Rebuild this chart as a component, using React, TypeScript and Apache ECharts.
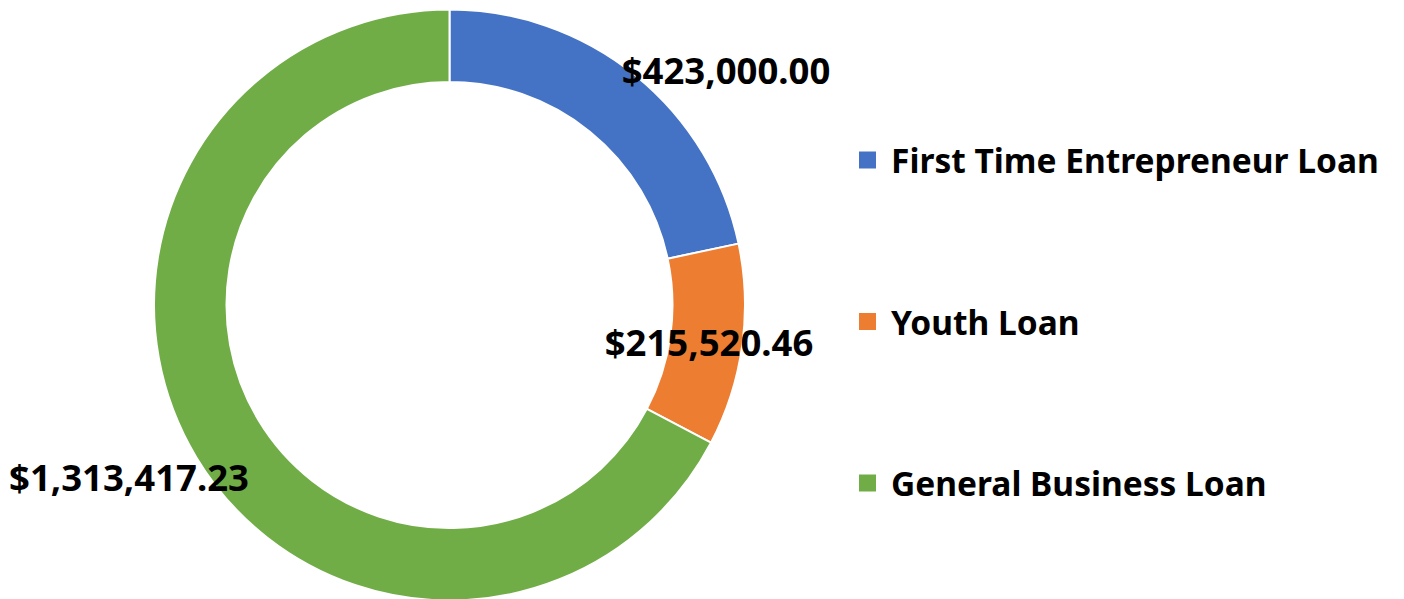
import React, { useEffect, useRef } from "react";
import * as echarts from "echarts";

const categories = ["First Time Entrepreneur Loan", "Youth Loan", "General Business Loan"];
const values = [423000.0, 215520.46, 1313417.23];
const colors = ["#4472C4", "#ED7D31", "#70AD47"];
// label anchor positions (pixel centers) for each slice's value label
const labelPositions: [number, number][] = [
  [726, 70],
  [709, 342],
  [129, 477],
];

function formatMoney(v: number): string {
  const fixed = v.toFixed(2);
  const [intPart, dec] = fixed.split(".");
  const withCommas = intPart.replace(/\B(?=(\d{3})+(?!\d))/g, ",");
  return "$" + withCommas + "." + dec;
}

export default function App() {
  const ref = useRef<HTMLDivElement>(null);
  useEffect(() => {
    if (!ref.current) return;
    const chart = echarts.init(ref.current, undefined, { renderer: "svg" });
    const font = "'Noto Sans', 'DejaVu Sans', sans-serif";
    chart.setOption({
      animation: false,
      backgroundColor: "#ffffff",
      color: colors,
      legend: {
        show: true,
        orient: "vertical",
        left: 857,
        top: 140,
        padding: 0,
        itemWidth: 19,
        itemHeight: 19,
        itemGap: 121.5,
        icon: "rect",
        selectedMode: false,
        data: categories,
        textStyle: {
          fontFamily: font,
          fontWeight: "bold",
          fontSize: 33.5,
          lineHeight: 40,
          color: "#000000",
          padding: [0, 0, 0, 9],
        },
      },
      series: [
        {
          type: "pie",
          center: [449.5, 305],
          radius: [223, 295.5],
          startAngle: 90,
          clockwise: true,
          avoidLabelOverlap: false,
          itemStyle: { borderColor: "#ffffff", borderWidth: 2 },
          label: {
            show: true,
            position: "outside",
            formatter: (p: any) => formatMoney(p.value),
            fontFamily: font,
            fontWeight: "bold",
            fontSize: 36.5,
            color: "#000000",
          },
          labelLine: { show: false },
          labelLayout: (params: any) => {
            const pos = labelPositions[params.dataIndex];
            return { x: pos[0], y: pos[1], align: "center", verticalAlign: "middle" };
          },
          emphasis: { disabled: true },
          data: categories.map((name, i) => ({ name, value: values[i] })),
        },
      ],
    });
    return () => chart.dispose();
  }, []);
  return (
    <div
      ref={ref}
      style={{ position: "fixed", left: 0, top: 0, width: 1404, height: 599 }}
    />
  );
}
